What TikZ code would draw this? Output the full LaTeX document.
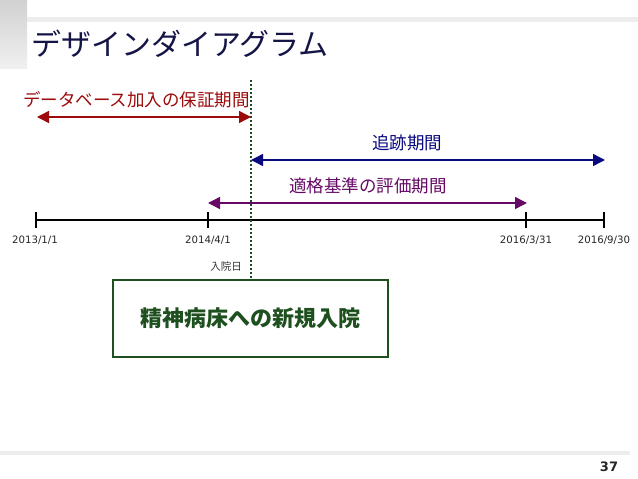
\documentclass[tikz,border=0pt]{standalone}
\usepackage{fontspec}
\setmainfont{DejaVu Sans}
\newfontfamily\jp{Noto Sans CJK JP}
\usetikzlibrary{arrows.meta}
\definecolor{titlecol}{HTML}{141446}
\definecolor{redc}{HTML}{9C0A0A}
\definecolor{bluec}{HTML}{0A0A80}
\definecolor{purc}{HTML}{660A66}
\definecolor{greenc}{HTML}{1E4F1E}
\tikzset{
  lbl/.style={font=\jp\fontsize{17.5}{17.5}\selectfont, inner sep=0pt},
  datelbl/.style={font=\fontsize{10.2}{11}\selectfont, inner sep=0pt, text=black!85},
  dspan/.style={line width=1.4pt, {Triangle[length=12pt,width=12pt]}-{Triangle[length=12pt,width=12pt]}},
  tick/.style={line width=1.5pt}
}
\begin{document}
\begin{tikzpicture}[x=1pt,y=-1pt]
\useasboundingbox (0,0) rectangle (638,479);
% header decoration
\shade[top color=black!18, bottom color=black!6] (0,0) rectangle (27,68);
\fill[black!7] (27,17) rectangle (638,22);
\fill[black!7] (0,451) rectangle (630,455);
\node[anchor=west, inner sep=0pt, text=titlecol, font=\jp\fontsize{30}{30}\selectfont] (title) at (31,44) {デザインダイアグラム};
\node[anchor=center, inner sep=0pt, font=\bfseries\fontsize{13}{13}\selectfont, text=black!85] (pg) at (609,467) {37};
% timeline
\coordinate (t0) at (36,220);
\coordinate (t1) at (208,220);
\coordinate (t2) at (526,220);
\coordinate (t3) at (604,220);
\draw[tick] (t0) -- (t3);
\foreach \c in {t0,t1,t2,t3} \draw[tick] ([yshift=-8pt]\c) -- ([yshift=8pt]\c);
\node[datelbl] (d0) at (35,240) {2013/1/1};
\node[datelbl] (d1) at (208,240) {2014/4/1};
\node[datelbl] (d2) at (526,240) {2016/3/31};
\node[datelbl] (d3) at (604,240) {2016/9/30};
\node[inner sep=0pt, font=\jp\fontsize{10.5}{10.5}\selectfont, text=black!80] (adm) at (226,267) {入院日};
% box
\node[draw=greenc, line width=1.4pt, minimum width=275pt, minimum height=77pt, inner sep=0pt, text=greenc, font=\jp\bfseries\fontsize{22}{22}\selectfont] (box) at (250.5,318.5) {精神病床への新規入院};
% dotted line
\coordinate (vtop) at (251,80);
\coordinate (vbot) at (251,280);
\draw[greenc, line width=2pt, dash pattern=on 2pt off 2pt] (vtop) -- (vbot);
% arrows
\coordinate (r0) at (37,117);
\coordinate (r1) at (251,117);
\draw[redc, dspan] (r0) -- (r1);
\node[lbl, text=redc, anchor=east] (rl) at (250,100) {データベース加入の保証期間};
\coordinate (b0) at (251,160);
\coordinate (b1) at (605,160);
\draw[bluec, dspan] (b0) -- (b1);
\node[lbl, text=bluec] (bl) at (407,143) {追跡期間};
\coordinate (p0) at (208,203);
\coordinate (p1) at (527,203);
\draw[purc, dspan] (p0) -- (p1);
\node[lbl, text=purc] (pl) at (368,186) {適格基準の評価期間};
\end{tikzpicture}
\end{document}
